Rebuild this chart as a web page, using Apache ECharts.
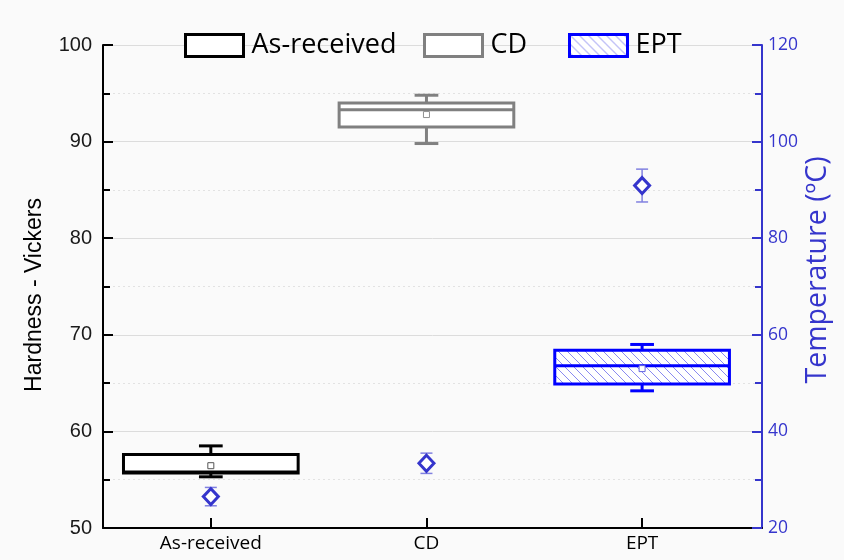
<!DOCTYPE html>
<html>
<head>
<meta charset="utf-8">
<script src="https://cdn.jsdelivr.net/npm/echarts@6/dist/echarts.min.js"></script>
<style>
html,body{margin:0;padding:0;background:#fafafa;}
#chart{width:844px;height:560px;}
</style>
</head>
<body>
<div id="chart"></div>
<script>
// ---- data ----
const categories = ['As-received', 'CD', 'EPT'];
// hardness box stats: [min, Q1, median, Q3, max]
const hvMin    = [55.3, 89.8, 64.2];
const hvQ1     = [55.7, 91.5, 64.9];
const hvMedian = [55.8, 93.3, 66.8];
const hvQ3     = [57.6, 94.0, 68.4];
const hvMax    = [58.5, 94.8, 69.0];
const hvMean   = [56.45, 92.8, 66.5];
// temperature (°C)
const tempMean = [26.5, 33.4, 90.9];
const tempErr  = [1.9, 2.1, 3.4];
const leftTicks = [50, 60, 70, 80, 90, 100];
const rightTicks = [20, 40, 60, 80, 100, 120];

// ---- styles ----
const boxColors = ['#000000', '#808080', '#0000ff'];
const meanColors = ['#555555', '#909090', '#6060e0'];
const blue = '#3535cc';
const legendLefts = [184, 423, 568];

function hatchPattern() {
  const c = document.createElement('canvas');
  c.width = 9; c.height = 9;
  const g = c.getContext('2d');
  g.fillStyle = '#ffffff';
  g.fillRect(0, 0, 9, 9);
  g.strokeStyle = '#8a8af0';
  g.lineWidth = 1;
  for (let k = -1; k <= 1; k++) {
    g.beginPath();
    g.moveTo(k * 9, 0);
    g.lineTo(k * 9 + 9, 9);
    g.stroke();
  }
  return { image: c, repeat: 'repeat' };
}
const fills = ['#ffffff', '#ffffff', hatchPattern()];

const BOX_W = 0.81;
const CAP_W = 0.11;

function boxRenderer(idx) {
  return function (params, api) {
    const x = api.value(0);
    const half = api.size([BOX_W, 0])[0] / 2;
    const capHalf = api.size([CAP_W, 0])[0] / 2;
    const pMin = api.coord([x, api.value(1)]);
    const pQ1 = api.coord([x, api.value(2)]);
    const pMed = api.coord([x, api.value(3)]);
    const pQ3 = api.coord([x, api.value(4)]);
    const pMax = api.coord([x, api.value(5)]);
    const pMean = api.coord([x, api.value(6)]);
    const cx = pMin[0];
    const stroke = { stroke: boxColors[idx], lineWidth: 3, fill: null };
    return {
      type: 'group',
      children: [
        { type: 'line', shape: { x1: cx, y1: pQ3[1], x2: cx, y2: pMax[1] }, style: stroke },
        { type: 'line', shape: { x1: cx - capHalf, y1: pMax[1], x2: cx + capHalf, y2: pMax[1] }, style: stroke },
        { type: 'line', shape: { x1: cx, y1: pQ1[1], x2: cx, y2: pMin[1] }, style: stroke },
        { type: 'line', shape: { x1: cx - capHalf, y1: pMin[1], x2: cx + capHalf, y2: pMin[1] }, style: stroke },
        { type: 'rect', shape: { x: cx - half, y: pQ3[1], width: 2 * half, height: pQ1[1] - pQ3[1] },
          style: { fill: fills[idx], stroke: boxColors[idx], lineWidth: 3 } },
        { type: 'line', shape: { x1: cx - half, y1: pMed[1], x2: cx + half, y2: pMed[1] }, style: stroke },
        { type: 'rect', shape: { x: cx - 3, y: pMean[1] - 3, width: 6, height: 6 },
          style: { fill: '#ffffff', stroke: meanColors[idx], lineWidth: 1 } }
      ]
    };
  };
}

const boxSeries = categories.map((name, i) => ({
  name: name,
  type: 'custom',
  xAxisIndex: 0,
  yAxisIndex: 0,
  renderItem: boxRenderer(i),
  itemStyle: { color: fills[i], borderColor: boxColors[i], borderWidth: 3 },
  data: [[i + 1, hvMin[i], hvQ1[i], hvMedian[i], hvQ3[i], hvMax[i], hvMean[i]]],
  z: 3
}));

const errSeries = {
  name: 'tempErr',
  type: 'custom',
  yAxisIndex: 1,
  renderItem: function (params, api) {
    const x = api.value(0);
    const lo = api.coord([x, api.value(1)]);
    const hi = api.coord([x, api.value(2)]);
    const c = 6;
    const st = { stroke: '#8080e0', lineWidth: 1.5 };
    return {
      type: 'group',
      children: [
        { type: 'line', shape: { x1: lo[0], y1: lo[1], x2: hi[0], y2: hi[1] }, style: st },
        { type: 'line', shape: { x1: lo[0] - c, y1: lo[1], x2: lo[0] + c, y2: lo[1] }, style: st },
        { type: 'line', shape: { x1: hi[0] - c, y1: hi[1], x2: hi[0] + c, y2: hi[1] }, style: st }
      ]
    };
  },
  data: tempMean.map((m, i) => [i + 1, m - tempErr[i], m + tempErr[i]]),
  z: 4
};

const tempSeries = {
  name: 'Temperature',
  type: 'scatter',
  yAxisIndex: 1,
  symbol: 'diamond',
  symbolSize: [15, 16],
  itemStyle: { color: '#ffffff', borderColor: blue, borderWidth: 3, opacity: 1 },
  data: tempMean.map((m, i) => [i + 1, m]),
  z: 5
};

const legends = categories.map((n, i) => ({
  left: legendLefts[i],
  top: 32,
  padding: 0,
  itemWidth: 58,
  itemHeight: 22,
  textStyle: { fontFamily: 'Open Sans', fontSize: 27, color: '#000', padding: [0, 0, 0, 3] },
  data: [{
    name: n,
    icon: 'rect',
    itemStyle: { color: fills[i], borderColor: boxColors[i], borderWidth: 3 }
  }]
}));

const chart = echarts.init(document.getElementById('chart'), null, { renderer: 'canvas' });
chart.setOption({
  backgroundColor: '#fafafa',
  animation: false,
  legend: legends,
  grid: { left: 103, right: 82, top: 45, bottom: 32 },
  xAxis: {
    type: 'value',
    min: 0.5,
    max: 3.556,
    axisLine: { show: true, onZero: false, lineStyle: { color: '#000', width: 2 } },
    axisTick: { show: true, inside: true, length: 10, customValues: [1, 2, 3], lineStyle: { color: '#000', width: 2 } },
    axisLabel: {
      customValues: [1, 2, 3],
      formatter: v => categories[Math.round(v) - 1] || '',
      fontFamily: 'Open Sans', fontSize: 19, color: '#000', margin: 6
    },
    splitLine: { show: false }
  },
  yAxis: [
    {
      type: 'value',
      min: leftTicks[0],
      max: leftTicks[leftTicks.length - 1],
      interval: 10,
      axisLine: { show: true, lineStyle: { color: '#000', width: 2 } },
      axisTick: { show: true, inside: true, length: 10, lineStyle: { color: '#000', width: 2 } },
      minorTick: { show: true, splitNumber: 2, length: 7, lineStyle: { color: '#000', width: 2 } },
      axisLabel: { fontFamily: 'Liberation Sans', fontSize: 20, color: '#1a1a1a', margin: 11 },
      splitLine: { show: true, lineStyle: { color: '#dcdcdc', width: 1 } },
      minorSplitLine: { show: true, lineStyle: { color: '#e2e2e2', width: 1, type: [2, 3] } }
    },
    {
      type: 'value',
      position: 'right',
      min: rightTicks[0],
      max: rightTicks[rightTicks.length - 1],
      interval: 20,
      axisLine: { show: true, lineStyle: { color: blue, width: 2 } },
      axisTick: { show: true, inside: true, length: 10, lineStyle: { color: blue, width: 2 } },
      minorTick: { show: true, splitNumber: 2, length: 7, lineStyle: { color: blue, width: 2 } },
      axisLabel: { fontFamily: 'Open Sans', fontSize: 17.5, color: blue, margin: 6 },
      splitLine: { show: false }
    }
  ],
  graphic: [
    {
      type: 'text', x: 35, y: 295, rotation: Math.PI / 2,
      style: { text: 'Hardness - Vickers', fontFamily: 'Liberation Sans', fontSize: 23, fill: '#000',
               align: 'center', verticalAlign: 'middle' }
    },
    {
      type: 'text', x: 818, y: 270, rotation: Math.PI / 2,
      style: { text: 'Temperature (ºC)', fontFamily: 'Open Sans', fontSize: 28.5, fill: blue,
               align: 'center', verticalAlign: 'middle' }
    }
  ],
  series: boxSeries.concat([errSeries, tempSeries])
});
</script>
</body>
</html>
